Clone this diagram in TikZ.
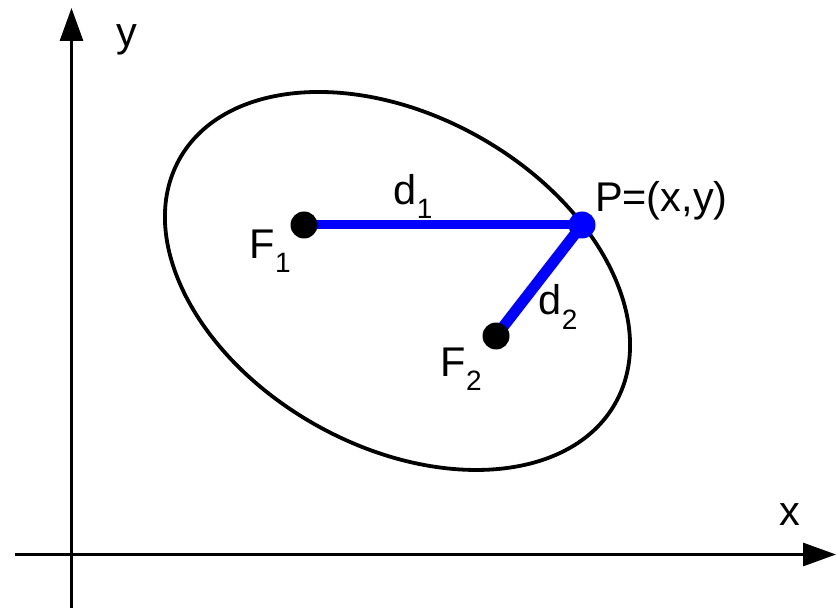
\documentclass[tikz,border=0pt]{standalone}
\usepackage{fontspec}
\setmainfont{Liberation Sans}
\usetikzlibrary{arrows.meta}
\newcommand{\bigtxt}{\fontsize{41.5}{41.5}\selectfont}
\newcommand{\subtxt}[1]{\raisebox{-14pt}{\fontsize{28}{28}\selectfont #1}}
\begin{document}
\begin{tikzpicture}[x=1pt,y=-1pt,
  axisline/.style={line width=3pt,-{Triangle[length=33pt,width=23pt]}},
  ellipseline/.style={line width=3.8pt},
  blueline/.style={line width=#1,draw={rgb,255:red,0;green,0;blue,255}},
  dotnode/.style={circle,inner sep=0pt,minimum size=27pt,fill=#1},
  lab/.style={anchor=base west,inner sep=0pt,font=\bigtxt}]
\useasboundingbox (0,0) rectangle (837,609);
\definecolor{pureblue}{RGB}{0,0,255}
% axes
\coordinate (xs) at (15,554.5);
\coordinate (xe) at (836,554.5);
\coordinate (ys) at (71.5,608);
\coordinate (ye) at (71.5,8);
\draw[axisline] (xs) -- (xe);
\draw[axisline] (ys) -- (ye);
% ellipse
\coordinate (c) at (397.5,281);
\draw[ellipseline,rotate around={-29.2:(c)}] (c) ellipse [x radius=249.8pt, y radius=165.5pt];
% points
\coordinate (f1) at (304,225);
\coordinate (f2) at (496,336);
\coordinate (p) at (582,225);
\draw[blueline=9pt] (f1) -- (p);
\draw[blueline=11pt] (f2) -- (p);
\node[dotnode=black] (F1) at (f1) {};
\node[dotnode=black] (F2) at (f2) {};
\node[dotnode=pureblue] (P) at (p) {};
% labels
\node[lab] (ylab) at (116.5,47) {y};
\node[lab] (xlab) at (779.5,525) {x};
\node[lab] (d1lab) at (393.6,205) {d\subtxt{1}};
\node[lab] (d2lab) at (538.6,315) {d\subtxt{2}};
\node[lab] (F1lab) at (249.6,259) {F\subtxt{1}};
\node[lab] (F2lab) at (440.6,376) {F\subtxt{2}};
\node[lab] (Plab) at (594.8,212) {P=(x,y)};
\end{tikzpicture}
\end{document}
